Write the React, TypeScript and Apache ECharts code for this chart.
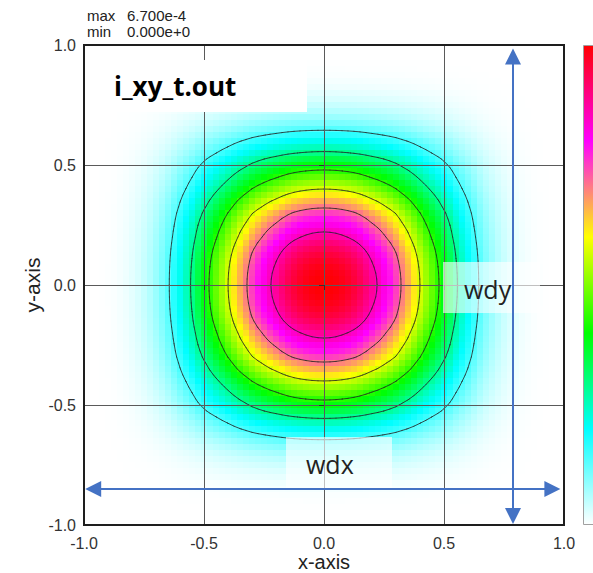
import React, { useEffect, useRef } from "react";
import * as echarts from "echarts";

// ---- data ----
const TITLE = "i_xy_t.out";
const MAX_VALUE = 6.7e-4;
const MIN_VALUE = 0;
const STEP = 0.025; // grid spacing of the sampled field
// relative intensity along x (and along y) from the centre (0.0) to the edge (1.0), every 0.025
const profileFromCenter = [
  1.0, 0.998, 0.993, 0.984, 0.972, 0.956, 0.935, 0.909, 0.88, 0.853, 0.822,
  0.789, 0.753, 0.707, 0.665, 0.619, 0.571, 0.525, 0.48, 0.436, 0.392, 0.347,
  0.296, 0.252, 0.212, 0.172, 0.135, 0.105, 0.08, 0.06, 0.044, 0.031, 0.021,
  0.013, 0.008, 0.004, 0.002, 0.001, 0, 0, 0,
];
const CONTOUR_LEVELS = [1 / 7, 2 / 7, 3 / 7, 4 / 7, 5 / 7, 6 / 7]; // fractions of max
const AXIS_TICKS = [-1.0, -0.5, 0.0, 0.5, 1.0];
const COLOR_STOPS = ["#ffffff", "#00ffff", "#00ff00", "#ffff00", "#ff00ff", "#ff0000"];
// annotation arrows (data coordinates)
const WDY_X = 0.7875;
const WDY_RANGE = [-0.996, 0.985];
const WDX_Y = -0.85;
const WDX_RANGE = [-0.995, 0.985];

// ---- derived tables ----
const N = profileFromCenter.length - 1;
const positions: number[] = [];
const profile: number[] = [];
for (let k = -N; k <= N; k++) {
  positions.push(+(k * STEP).toFixed(4));
  profile.push(profileFromCenter[Math.abs(k)]);
}
const field: number[][] = profile.map((gy) => profile.map((gx) => MAX_VALUE * gx * gy));
const heatData: number[][] = [];
for (let j = 0; j < positions.length; j++)
  for (let i = 0; i < positions.length; i++) heatData.push([positions[i], positions[j], field[j][i]]);

function contourSegments(level: number): number[][] {
  const segs: number[][] = [];
  const n = positions.length;
  for (let j = 0; j < n - 1; j++) {
    for (let i = 0; i < n - 1; i++) {
      const x0 = positions[i], x1 = positions[i + 1], y0 = positions[j], y1 = positions[j + 1];
      const v00 = field[j][i], v10 = field[j][i + 1], v11 = field[j + 1][i + 1], v01 = field[j + 1][i];
      const pts: number[][] = [];
      const edge = (xa: number, ya: number, va: number, xb: number, yb: number, vb: number) => {
        if (va >= level !== vb >= level) {
          const t = (level - va) / (vb - va);
          pts.push([xa + t * (xb - xa), ya + t * (yb - ya)]);
        }
      };
      edge(x0, y0, v00, x1, y0, v10);
      edge(x1, y0, v10, x1, y1, v11);
      edge(x1, y1, v11, x0, y1, v01);
      edge(x0, y1, v01, x0, y0, v00);
      if (pts.length === 2) segs.push([pts[0][0], pts[0][1], pts[1][0], pts[1][1]]);
      else if (pts.length === 4) {
        const c = (v00 + v10 + v11 + v01) / 4;
        if (c >= level === v00 >= level) {
          segs.push([pts[0][0], pts[0][1], pts[1][0], pts[1][1]]);
          segs.push([pts[2][0], pts[2][1], pts[3][0], pts[3][1]]);
        } else {
          segs.push([pts[0][0], pts[0][1], pts[3][0], pts[3][1]]);
          segs.push([pts[1][0], pts[1][1], pts[2][0], pts[2][1]]);
        }
      }
    }
  }
  return segs;
}
const contourData: number[][] = [];
CONTOUR_LEVELS.forEach((f) => contourSegments(f * MAX_VALUE).forEach((s) => contourData.push(s)));

const LABEL_FONT = "'Liberation Sans', Arial, sans-serif";

export default function App() {
  const ref = useRef<HTMLDivElement>(null);
  useEffect(() => {
    const chart = echarts.init(ref.current!, null, { renderer: "svg" });
    const axisCommon = {
      type: "value",
      min: AXIS_TICKS[0],
      max: AXIS_TICKS[AXIS_TICKS.length - 1],
      interval: AXIS_TICKS[1] - AXIS_TICKS[0],
      z: 5,
      axisLine: { show: false },
      axisTick: { show: true, length: 5, lineStyle: { color: "#333", width: 1 } },
      axisLabel: {
        formatter: (v: number) => v.toFixed(1),
        fontSize: 16,
        color: "#333",
        fontFamily: LABEL_FONT,
      },
      splitLine: { show: true, lineStyle: { color: "#5a5a5a", width: 1 } },
      nameLocation: "middle",
      nameMoveOverlap: false,
      nameTextStyle: { fontSize: 20, color: "#222", fontFamily: LABEL_FONT },
    };
    chart.setOption({
      animation: false,
      backgroundColor: "#ffffff",
      grid: {
        left: 84,
        top: 45,
        width: 480,
        height: 480,
        containLabel: false,
        outerBoundsMode: "none",
      },
      xAxis: {
        ...axisCommon,
        name: "x-axis",
        nameGap: 27,
        axisLabel: { ...axisCommon.axisLabel, margin: 10 },
      },
      yAxis: {
        ...axisCommon,
        name: "y-axis",
        nameGap: 41,
        nameTextStyle: { ...axisCommon.nameTextStyle, fontSize: 21 },
        axisLabel: { ...axisCommon.axisLabel, margin: 8 },
      },
      visualMap: {
        type: "continuous",
        seriesIndex: 0,
        dimension: 2,
        min: MIN_VALUE,
        max: MAX_VALUE,
        calculable: false,
        realtime: false,
        left: 583,
        top: 45,
        itemWidth: 20,
        itemHeight: 480,
        padding: 0,
        showLabel: false,
        inRange: { color: COLOR_STOPS },
      },
      series: [
        {
          type: "custom",
          z: 2,
          silent: true,
          progressive: 0,
          data: heatData,
          encode: { x: 0, y: 1 },
          renderItem: (params: any, api: any) => {
            const x = api.value(0);
            const y = api.value(1);
            const a = api.coord([x - STEP / 2, y + STEP / 2]);
            const b = api.coord([x + STEP / 2, y - STEP / 2]);
            const cs = params.coordSys;
            const shape = echarts.graphic.clipRectByRect(
              { x: a[0], y: a[1], width: b[0] - a[0], height: b[1] - a[1] },
              { x: cs.x, y: cs.y, width: cs.width, height: cs.height }
            );
            if (!shape) return null;
            return { type: "rect", shape, style: { fill: api.visual("color") } };
          },
        },
        {
          type: "custom",
          z: 3,
          silent: true,
          progressive: 0,
          data: contourData,
          encode: { x: [0, 2], y: [1, 3] },
          renderItem: (_params: any, api: any) => {
            const p = api.coord([api.value(0), api.value(1)]);
            const q = api.coord([api.value(2), api.value(3)]);
            return {
              type: "line",
              shape: { x1: p[0], y1: p[1], x2: q[0], y2: q[1] },
              style: { stroke: "rgba(35,35,35,0.8)", lineWidth: 1, lineCap: "round" },
            };
          },
        },
      ],
    });

    const px = (p: number[]) => chart.convertToPixel({ gridIndex: 0 }, p) as number[];
    const tl = px([AXIS_TICKS[0], AXIS_TICKS[AXIS_TICKS.length - 1]]);
    const br = px([AXIS_TICKS[AXIS_TICKS.length - 1], AXIS_TICKS[0]]);
    const vTop = px([WDY_X, WDY_RANGE[1]]);
    const vBot = px([WDY_X, WDY_RANGE[0]]);
    const hL = px([WDX_RANGE[0], WDX_Y]);
    const hR = px([WDX_RANGE[1], WDX_Y]);
    const blue = "#4472c4";
    const head = 16;
    const hw = 8;
    const infoStyle = { fontSize: 15, fill: "#222", fontFamily: LABEL_FONT, verticalAlign: "middle" };
    chart.setOption({
      graphic: [
        {
          type: "rect",
          z: 8,
          silent: true,
          shape: { x: tl[0], y: tl[1], width: br[0] - tl[0], height: br[1] - tl[1] },
          style: { fill: "none", stroke: "#1e1e1e", lineWidth: 2 },
        },
        {
          type: "rect",
          z: 8,
          silent: true,
          shape: { x: 583.5, y: 45.5, width: 20, height: 479 },
          style: { fill: "none", stroke: "#a0a0a0", lineWidth: 1 },
        },
        { type: "text", z: 10, x: 87, y: 15.5, style: { ...infoStyle, text: "max" } },
        { type: "text", z: 10, x: 127, y: 15.5, style: { ...infoStyle, text: MAX_VALUE.toExponential(3) } },
        { type: "text", z: 10, x: 87, y: 31.5, style: { ...infoStyle, text: "min" } },
        { type: "text", z: 10, x: 127, y: 31.5, style: { ...infoStyle, text: MIN_VALUE.toExponential(3) } },
        // title box
        {
          type: "rect",
          z: 10,
          silent: true,
          shape: { x: 100, y: 60, width: 207, height: 52 },
          style: { fill: "#ffffff" },
        },
        {
          type: "text",
          z: 11,
          x: 114,
          y: 86,
          style: {
            text: TITLE,
            fontSize: 26,
            fontWeight: "bold",
            fill: "#000",
            fontFamily: "'Open Sans', sans-serif",
            verticalAlign: "middle",
          },
        },
        // wdy box and label
        {
          type: "rect",
          z: 10,
          silent: true,
          shape: { x: 443, y: 262, width: 97, height: 51 },
          style: { fill: "rgba(255,255,255,0.62)" },
        },
        {
          type: "text",
          z: 11,
          x: 464,
          y: 289,
          style: {
            text: "wdy",
            fontSize: 25,
            fill: "#222",
            fontFamily: "'Open Sans', sans-serif",
            verticalAlign: "middle",
          },
        },
        // wdx box and label
        {
          type: "rect",
          z: 10,
          silent: true,
          shape: { x: 286, y: 437, width: 106, height: 51 },
          style: { fill: "rgba(255,255,255,0.62)" },
        },
        {
          type: "text",
          z: 11,
          x: 306,
          y: 464,
          style: {
            text: "wdx",
            fontSize: 25,
            fill: "#222",
            fontFamily: "'Open Sans', sans-serif",
            verticalAlign: "middle",
          },
        },
        // vertical arrow
        {
          type: "line",
          z: 12,
          silent: true,
          shape: { x1: vTop[0], y1: vTop[1] + head - 2, x2: vBot[0], y2: vBot[1] - head + 2 },
          style: { stroke: blue, lineWidth: 2 },
        },
        {
          type: "polygon",
          z: 12,
          silent: true,
          shape: { points: [[vTop[0], vTop[1]], [vTop[0] - hw, vTop[1] + head], [vTop[0] + hw, vTop[1] + head]] },
          style: { fill: blue },
        },
        {
          type: "polygon",
          z: 12,
          silent: true,
          shape: { points: [[vBot[0], vBot[1]], [vBot[0] - hw, vBot[1] - head], [vBot[0] + hw, vBot[1] - head]] },
          style: { fill: blue },
        },
        // horizontal arrow
        {
          type: "line",
          z: 12,
          silent: true,
          shape: { x1: hL[0] + head - 2, y1: hL[1], x2: hR[0] - head + 2, y2: hR[1] },
          style: { stroke: blue, lineWidth: 2 },
        },
        {
          type: "polygon",
          z: 12,
          silent: true,
          shape: { points: [[hL[0], hL[1]], [hL[0] + head, hL[1] - hw], [hL[0] + head, hL[1] + hw]] },
          style: { fill: blue },
        },
        {
          type: "polygon",
          z: 12,
          silent: true,
          shape: { points: [[hR[0], hR[1]], [hR[0] - head, hR[1] - hw], [hR[0] - head, hR[1] + hw]] },
          style: { fill: blue },
        },
      ],
    });
    return () => chart.dispose();
  }, []);
  return (
    <div
      ref={ref}
      style={{ position: "absolute", left: 0, top: 0, width: 593, height: 573, background: "#fff" }}
    />
  );
}
